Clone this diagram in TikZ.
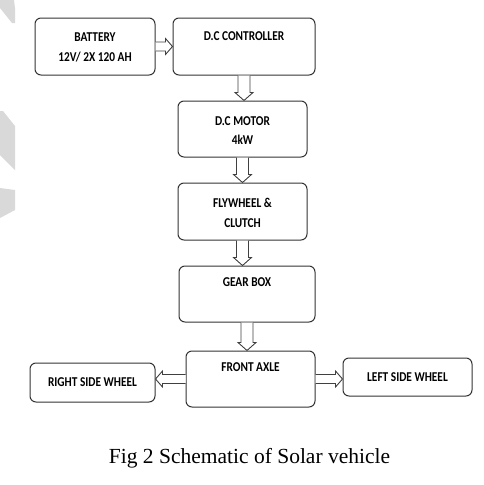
\documentclass[tikz,border=0pt]{standalone}
\usepackage{fontspec}
\setmainfont{Liberation Serif}
\newfontfamily\boxfont[FakeStretch=0.84]{Carlito}
\usetikzlibrary{calc}
\tikzset{
  box/.style={draw=black!80, line width=1pt, rounded corners=6pt, inner sep=0pt, fill=white},
  txt/.style={font=\boxfont\bfseries\fontsize{13.5}{19.5}\selectfont, align=center, inner sep=0pt},
  blk/.style={draw=black!75, line width=0.9pt, fill=white, line join=miter},
  wm/.style={fill=gray!30, draw=none}
}
\newcommand{\varrow}[2]{\draw[blk] let \p1=(#1), \p2=(#2) in
  (\x1-6pt,\y1) -- (\x1-6pt,\y2+8pt) -- (\x1-9pt,\y2+8pt) -- (\x1,\y2) -- (\x1+9pt,\y2+8pt) -- (\x1+6pt,\y2+8pt) -- (\x1+6pt,\y1);}
\newcommand{\rarrow}[2]{\draw[blk] let \p1=(#1), \p2=(#2) in
  (\x1,\y1+4.5pt) -- (\x2-7pt,\y1+4.5pt) -- (\x2-7pt,\y1+8pt) -- (\x2,\y1) -- (\x2-7pt,\y1-8pt) -- (\x2-7pt,\y1-4.5pt) -- (\x1,\y1-4.5pt);}
\newcommand{\larrow}[2]{\draw[blk] let \p1=(#1), \p2=(#2) in
  (\x1,\y1+4.5pt) -- (\x2+7pt,\y1+4.5pt) -- (\x2+7pt,\y1+8pt) -- (\x2,\y1) -- (\x2+7pt,\y1-8pt) -- (\x2+7pt,\y1-4.5pt) -- (\x1,\y1-4.5pt);}
\begin{document}
\begin{tikzpicture}[x=1pt,y=-1pt]
\useasboundingbox (0,0) rectangle (484,485);
% watermark fragments
\fill[wm] (0,0) -- (14,0) -- (15,8) -- (15,23) -- (12,23) -- (0,8) -- cycle;
\fill[wm] (0,111) -- (3,111) -- (15,126) -- (15,170) -- (0,155) -- cycle;
\fill[wm] (0,188) -- (15,190) -- (15,210) -- (0,218) -- cycle;
% boxes
\node[box, minimum width=120pt, minimum height=57pt] (bat) at (95,46.5) {};
\node[box, minimum width=142pt, minimum height=57pt] (ctrl) at (244,46.5) {};
\node[box, minimum width=129pt, minimum height=56pt] (motor) at (242.5,129) {};
\node[box, minimum width=129pt, minimum height=57pt] (fly) at (242.5,211.5) {};
\node[box, minimum width=136pt, minimum height=56pt] (gear) at (247,294) {};
\node[box, minimum width=129pt, minimum height=56pt] (axle) at (250.5,379) {};
\node[box, minimum width=125pt, minimum height=39pt] (rw) at (92.5,382.5) {};
\node[box, minimum width=129pt, minimum height=38pt] (lw) at (407.5,377) {};
% texts
\node[txt] (batt) at ([yshift=-1pt]bat.center) {BATTERY\\12V/ 2X 120 AH};
\node[txt] (ctrlt) at ([yshift=-19pt]ctrl.north) {D.C CONTROLLER};
\node[txt] (motort) at ([yshift=-1.5pt]motor.center) {D.C MOTOR\\4kW};
\node[txt] (flyt) at ([yshift=-1.5pt]fly.center) {FLYWHEEL \&\\CLUTCH};
\node[txt] (geart) at ([yshift=-17pt]gear.north) {GEAR BOX};
\node[txt] (axlet) at ([yshift=-17pt]axle.north) {FRONT AXLE};
\node[txt] (rwt) at (rw.center) {RIGHT SIDE WHEEL};
\node[txt] (lwt) at (lw.center) {LEFT SIDE WHEEL};
% arrows
\rarrow{bat.east}{ctrl.west}
\varrow{ctrl.south}{motor.north}
\varrow{motor.south}{fly.north}
\varrow{fly.south}{gear.north}
\varrow{gear.south}{axle.north}
\larrow{axle.west}{rw.east}
\rarrow{axle.east}{lw.west}
% caption
\node[font=\fontsize{21.5}{25}\selectfont, inner sep=0pt] (cap) at (249.5,458) {Fig 2 Schematic of Solar vehicle};
\end{tikzpicture}
\end{document}
